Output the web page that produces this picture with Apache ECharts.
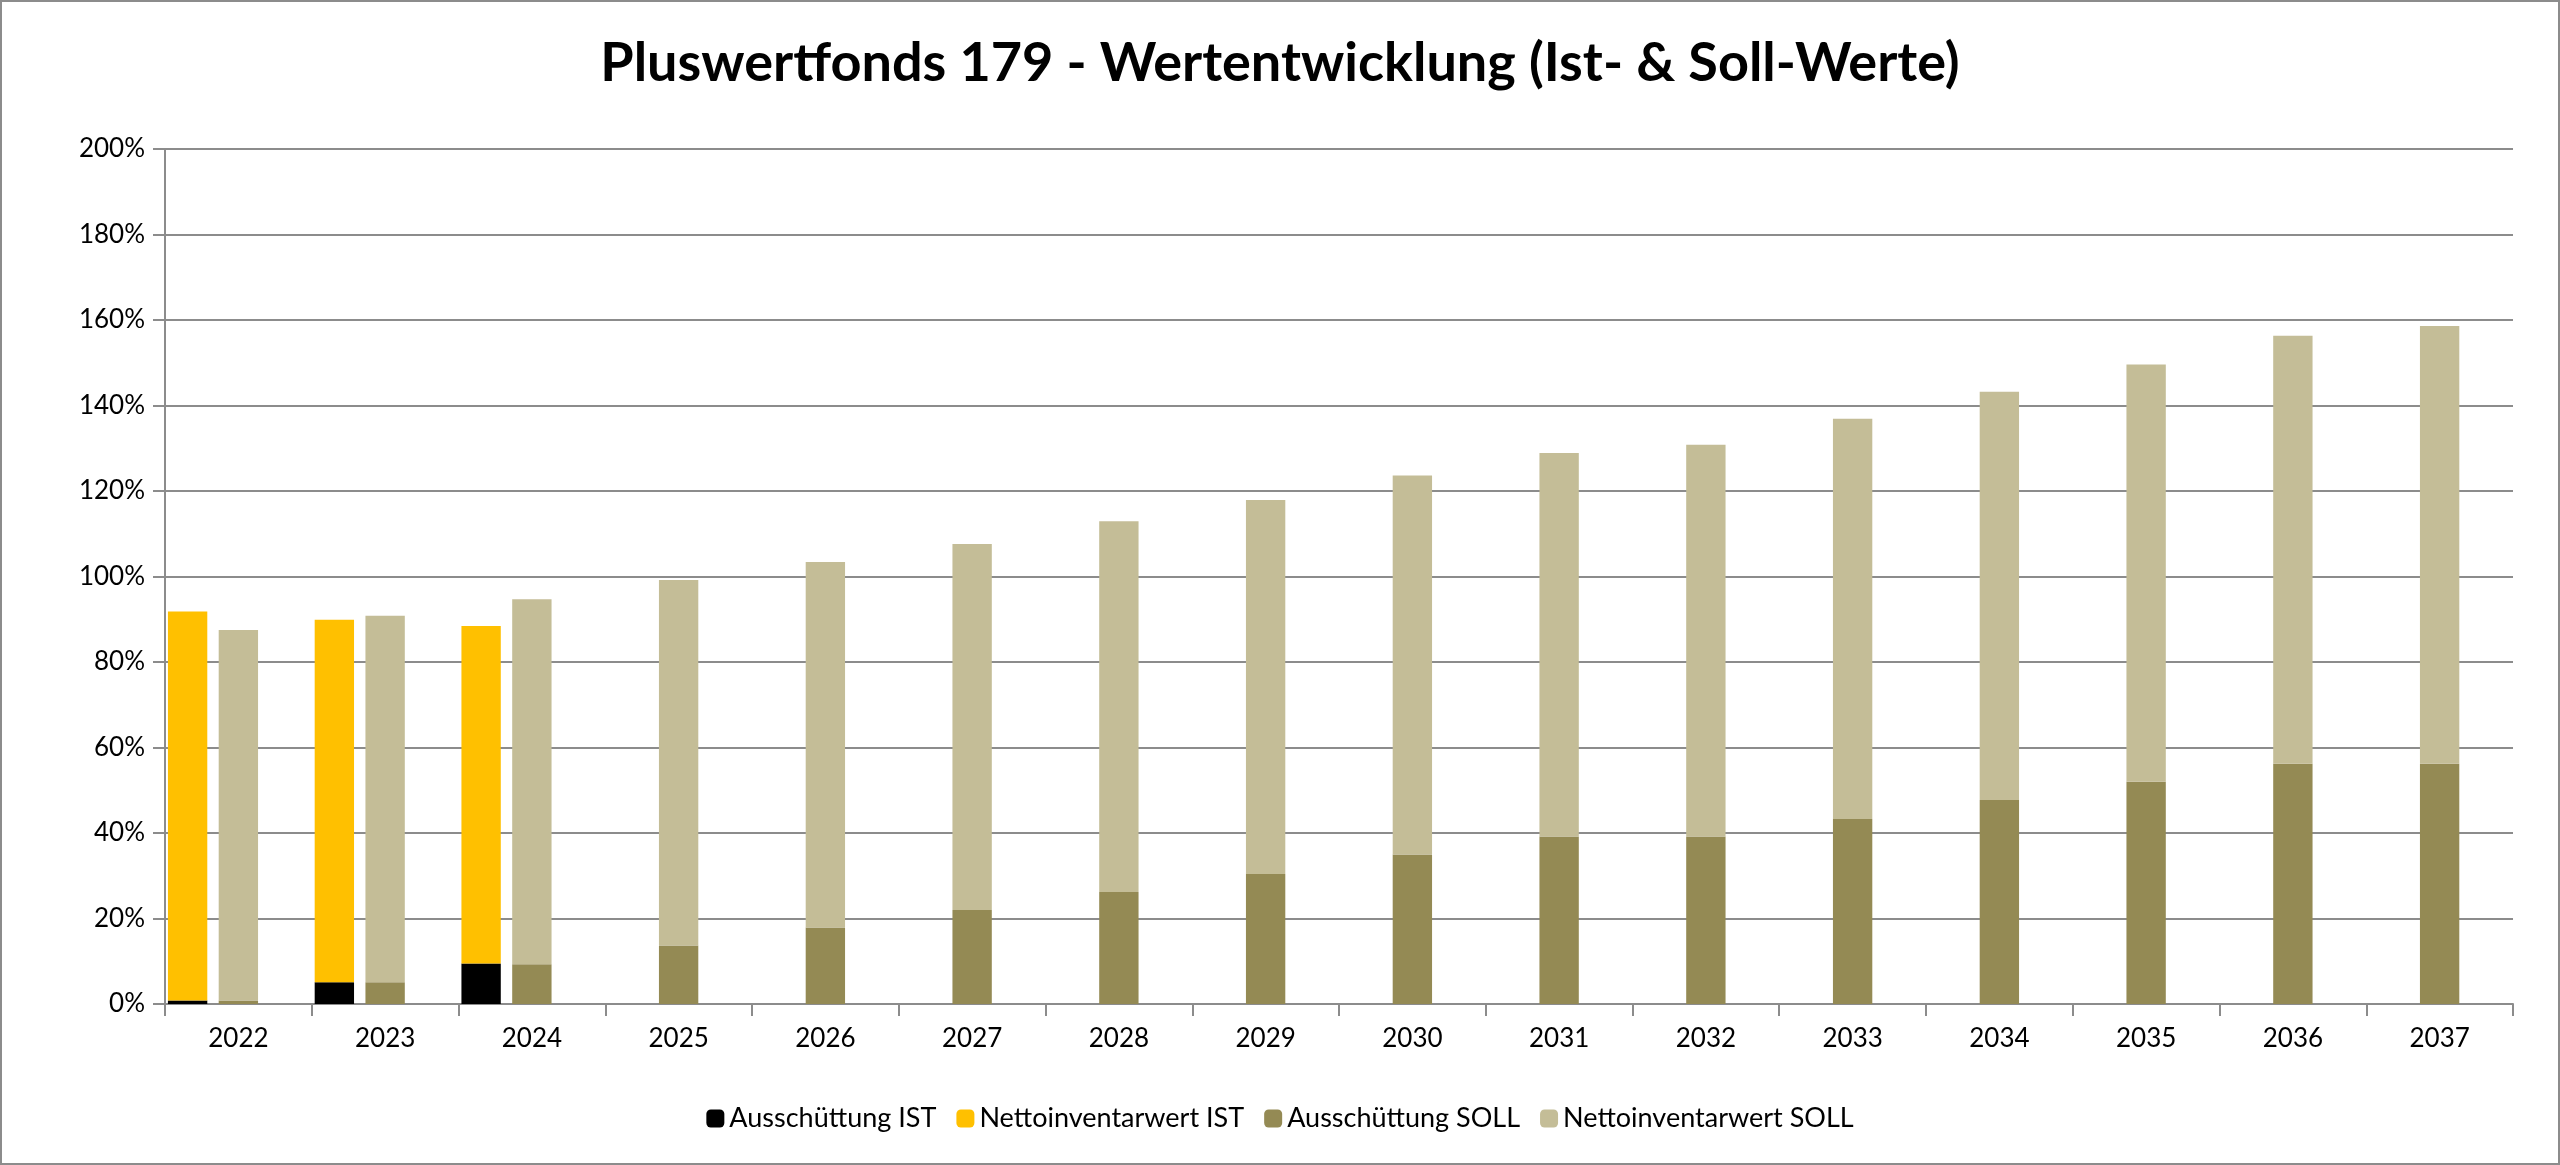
<!DOCTYPE html>
<html>
<head>
<meta charset="utf-8">
<script src="https://cdn.jsdelivr.net/npm/echarts@6/dist/echarts.min.js"></script>
<style>
  html, body { margin: 0; padding: 0; background: #fff; }
  #main { width: 2560px; height: 1165px; box-sizing: border-box; border: 2px solid #8c8c8c; }
</style>
</head>
<body>
<div id="main"></div>
<script>
// Jahre
var years = ['2022','2023','2024','2025','2026','2027','2028','2029','2030','2031','2032','2033','2034','2035','2036','2037'];
// Ist-Werte (in %)
var ausschuettungIst = [0.8, 5.1, 9.5, null, null, null, null, null, null, null, null, null, null, null, null, null];
var nettoIst = [91.0, 84.8, 78.9, null, null, null, null, null, null, null, null, null, null, null, null, null];
// Soll-Werte (in %)
var ausschuettungSoll = [0.8, 5.1, 9.3, 13.7, 17.9, 22.0, 26.2, 30.4, 35.0, 39.2, 39.2, 43.3, 47.7, 52.0, 56.2, 56.2];
var nettoSoll = [86.7, 85.7, 85.4, 85.5, 85.5, 85.6, 86.7, 87.5, 88.6, 89.7, 91.6, 93.6, 95.5, 97.6, 100.1, 102.4];
var emptySlot = years.map(function () { return null; });

var myChart = echarts.init(document.getElementById('main'));
var font = 'Lato';

myChart.setOption({
    animation: false,
    textStyle: { fontFamily: font },
    title: {
        text: 'Pluswertfonds 179 - Wertentwicklung (Ist- & Soll-Werte)',
        left: 'center',
        top: 30,
        textStyle: { fontSize: 54, fontWeight: 'bold', color: '#000', fontFamily: font }
    },
    legend: {
        bottom: 26,
        itemWidth: 18,
        itemHeight: 18,
        itemGap: 20,
        textStyle: { fontSize: 27, color: '#000' },
        data: ['Ausschüttung IST', 'Nettoinventarwert IST', 'Ausschüttung SOLL', 'Nettoinventarwert SOLL']
    },
    grid: { left: 163, right: 45, top: 147, bottom: 159 },
    xAxis: {
        type: 'category',
        data: years,
        axisLine: { lineStyle: { color: '#8c8c8c', width: 2 } },
        axisTick: { show: true, length: 12, lineStyle: { color: '#8c8c8c', width: 2 } },
        axisLabel: { fontSize: 26, color: '#000', margin: 22 }
    },
    yAxis: {
        type: 'value',
        min: 0,
        max: 200,
        interval: 20,
        axisLine: { show: true, lineStyle: { color: '#8c8c8c', width: 2 } },
        axisTick: { show: true, length: 12, lineStyle: { color: '#8c8c8c', width: 2 } },
        axisLabel: { fontSize: 26, color: '#000', margin: 20, formatter: '{value}%' },
        splitLine: { lineStyle: { color: '#8c8c8c', width: 2 } }
    },
    series: [
        { name: 'Ausschüttung IST', type: 'bar', stack: 'ist', data: ausschuettungIst,
          itemStyle: { color: '#000000' }, barGap: '29%', barCategoryGap: '4%' },
        { name: 'Nettoinventarwert IST', type: 'bar', stack: 'ist', data: nettoIst,
          itemStyle: { color: '#ffc000' } },
        { name: 'Ausschüttung SOLL', type: 'bar', stack: 'soll', data: ausschuettungSoll,
          itemStyle: { color: '#948a54' } },
        { name: 'Nettoinventarwert SOLL', type: 'bar', stack: 'soll', data: nettoSoll,
          itemStyle: { color: '#c4bd97' } },
        { name: 'leer', type: 'bar', stack: 'leer', data: emptySlot }
    ]
});
</script>
</body>
</html>
